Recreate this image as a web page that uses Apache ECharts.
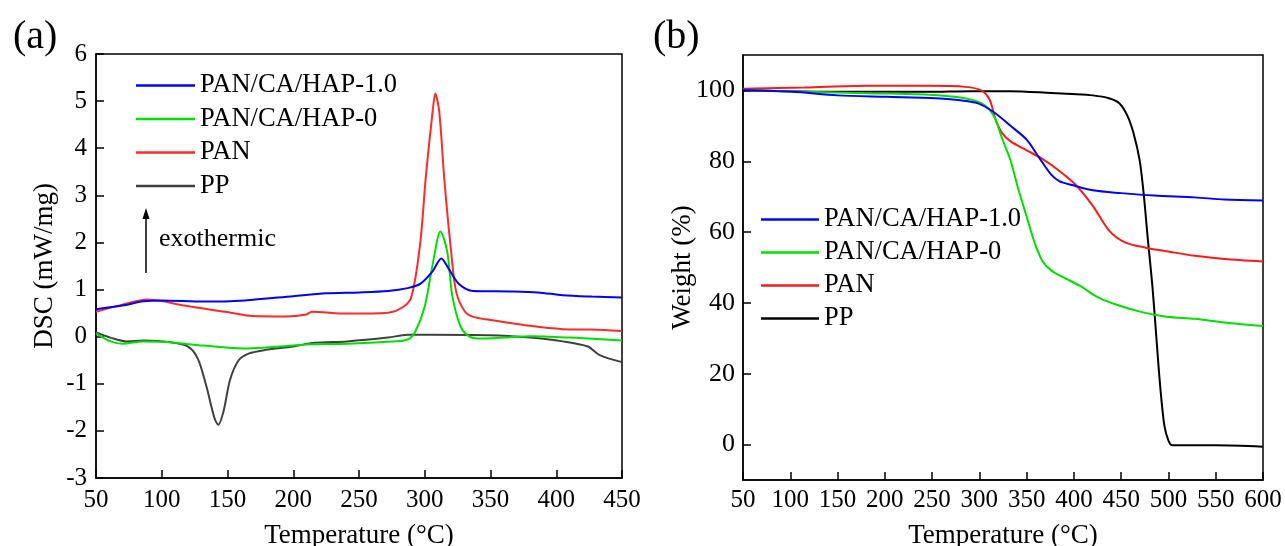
<!DOCTYPE html>
<html><head><meta charset="utf-8">
<script src="https://cdn.jsdelivr.net/npm/echarts@6/dist/echarts.min.js"></script>
<style>
html,body{margin:0;padding:0;background:#fff;}
#a{position:absolute;left:0;top:0;width:640px;height:546px;}
#b{position:absolute;left:640px;top:0;width:645px;height:546px;}
</style></head>
<body><div id="a"></div><div id="b"></div>
<script>
// ---- Data ----
const seriesNames = ['PAN/CA/HAP-1.0', 'PAN/CA/HAP-0', 'PAN', 'PP'];
const dscXTicks = [50, 450, 50];   // min, max, step
const tgaXTicks = [50, 600, 50];
const tgaYLabels = [0, 20, 40, 60, 80, 100];

const dscHAP10 = [[50,0.58],[70,0.66],[86,0.75],[100,0.77],[132,0.745],[163,0.77],[200,0.86],[225,0.92],[250,0.94],[272,0.97],[287,1.03],[296.5,1.12],[305.8,1.38],[312.6,1.66],[318,1.45],[326,1.12],[337,0.97],[365,0.96],[386,0.94],[405,0.88],[427,0.85],[450,0.83]];
const dscHAP0 = [[50,0.07],[61,-0.10],[70,-0.15],[86,-0.10],[101,-0.11],[132,-0.19],[163,-0.25],[179,-0.23],[200,-0.19],[213,-0.16],[241,-0.15],[272,-0.11],[287,-0.06],[293,0.12],[300,0.64],[306,1.53],[312,2.23],[317,1.82],[321,0.86],[327.5,0.20],[334,0.00],[340,-0.04],[365,-0.01],[380,0.01],[411,-0.02],[450,-0.08]];
const dscPAN = [[50,0.53],[70,0.68],[89,0.79],[101,0.75],[117,0.66],[148,0.53],[169,0.44],[194,0.43],[210,0.47],[214,0.53],[241,0.49],[272,0.51],[284,0.64],[290,0.86],[296.5,1.97],[301,3.45],[306,4.78],[308,5.16],[311,4.78],[315,3.3],[320,1.82],[324,0.94],[330.6,0.53],[337,0.42],[349,0.36],[380,0.23],[405,0.16],[427,0.15],[450,0.12]];
const dscPP = [[50,0.09],[61,-0.02],[73,-0.10],[86,-0.08],[107,-0.12],[120,-0.21],[127.5,-0.47],[134,-1.06],[140,-1.72],[143,-1.87],[147,-1.58],[152,-0.91],[158.5,-0.50],[166,-0.36],[179,-0.28],[200,-0.21],[216,-0.13],[241,-0.10],[272,-0.02],[287,0.04],[303,0.04],[349,0.03],[380,-0.02],[405,-0.10],[424,-0.21],[433,-0.39],[450,-0.54]];

const tgaHAP10 = [[50,100.1],[102,99.6],[150,98.6],[202,98.2],[254,97.8],[280,97.2],[298,96.4],[315,93.9],[333,90.0],[350,86.1],[363,81.1],[376,76.2],[385,74.3],[398,73.3],[420,71.8],[450,71.0],[485,70.3],[528,69.8],[559,69.2],[600,68.9]];
const tgaHAP0 = [[50,100.1],[115,99.6],[180,99.2],[246,98.8],[280,98.0],[302,96.4],[315,92.9],[324,86.5],[333,80.2],[341,72.3],[350,64.4],[359,56.6],[367,51.7],[376,49.2],[389,47.2],[406.5,44.8],[424,41.8],[446,39.4],[472,37.4],[498,36.1],[528,35.5],[559,34.5],[600,33.5]];
const tgaPAN = [[50,100.5],[115,100.8],[180,101.3],[246,101.3],[285,101.0],[302,100.0],[311,97.3],[317,91.9],[324,88.0],[333,85.6],[350,83.1],[367,80.6],[385,77.2],[402,73.3],[420,67.4],[437,60.5],[454,57.1],[476,55.6],[502,54.4],[528,53.3],[559,52.4],[600,51.7]];
const tgaPP = [[50,100],[159,99.6],[246,99.6],[289,99.8],[333,99.8],[376,99.3],[398,99.0],[420,98.6],[437,97.8],[448,96.4],[456.5,92.9],[463,88.0],[469.6,80.2],[474,70.3],[478,58.5],[483,44.8],[487,31.0],[491,17.3],[495.6,5.5],[500,1.1],[504,-0.2],[550,-0.2],[600,-0.6]];

const colorsA = ['#0000ff', '#00e000', '#ff2a2a', '#404040'];
const colorsB = ['#0000ff', '#00e000', '#ff1a1a', '#000000'];

const FONT = '"Liberation Serif", "Times New Roman", serif';

function mkSeries(names, datas, colors) {
  return names.map((n, i) => ({
    name: n, type: 'line', data: datas[i], showSymbol: false, symbol: 'none',
    smooth: 0.3,
    lineStyle: { color: colors[i], width: 2 }, itemStyle: { color: colors[i] },
    z: 10 - i
  }));
}

function baseAxisStyle(fs, margin) {
  return {
    axisLine: { show: true, onZero: false, lineStyle: { color: '#000', width: 1.5 } },
    axisTick: { show: true, inside: true, length: 8, lineStyle: { color: '#000', width: 1.5 } },
    axisLabel: { color: '#000', fontFamily: FONT, fontSize: fs, margin: margin },
    splitLine: { show: false },
    nameMoveOverlap: false,
    nameTextStyle: { color: '#000', fontFamily: FONT, fontSize: 27 }
  };
}

// ---- Chart (a) ----
const ca = echarts.init(document.getElementById('a'));
ca.setOption({
  animation: false,
  title: { text: '(a)', left: 8, top: 12, textStyle: { fontFamily: FONT, fontSize: 40, fontWeight: 'normal', color: '#000' } },
  grid: { left: 96, top: 54, width: 526, height: 424, outerBoundsMode: 'none', containLabel: false, show: true, borderColor: '#000', borderWidth: 1.5, backgroundColor: 'transparent' },
  legend: {
    orient: 'vertical', left: 131, top: 67, icon: 'rect', itemWidth: 59, itemHeight: 2.5, itemGap: 6.5, data: seriesNames,
    textStyle: { fontFamily: FONT, fontSize: 26.5, color: '#000', lineHeight: 26 }, selectedMode: false
  },
  xAxis: Object.assign(baseAxisStyle(25, 10), {
    type: 'value', min: dscXTicks[0], max: dscXTicks[1], interval: dscXTicks[2],
    name: 'Temperature (°C)', nameLocation: 'middle', nameGap: 44
  }),
  yAxis: Object.assign(baseAxisStyle(25, 9), {
    type: 'value', min: -3, max: 6, interval: 1,
    name: 'DSC (mW/mg)', nameLocation: 'middle', nameGap: 38
  }),
  graphic: [
    { type: 'line', shape: { x1: 146, y1: 273, x2: 146, y2: 216 }, style: { stroke: '#000', lineWidth: 1.5 } },
    { type: 'polygon', shape: { points: [[146, 208], [142.5, 219], [149.5, 219]] }, style: { fill: '#000' } },
    { type: 'text', left: 159, top: 226, style: { text: 'exothermic', font: '26px "Liberation Serif", serif', fill: '#000' } }
  ],
  series: mkSeries(seriesNames, [dscHAP10, dscHAP0, dscPAN, dscPP], colorsA)
});

// ---- Chart (b) ----
const cb = echarts.init(document.getElementById('b'));
const yb = baseAxisStyle(26, 8);
yb.axisLabel.customValues = tgaYLabels;
yb.axisTick.customValues = tgaYLabels;
cb.setOption({
  animation: false,
  title: { text: '(b)', left: 8, top: 12, textStyle: { fontFamily: FONT, fontSize: 40, fontWeight: 'normal', color: '#000' } },
  grid: { left: 103, top: 55, width: 520, height: 425, outerBoundsMode: 'none', containLabel: false, show: true, borderColor: '#000', borderWidth: 1.5, backgroundColor: 'transparent' },
  legend: {
    orient: 'vertical', left: 116, top: 201, icon: 'rect', itemWidth: 58, itemHeight: 2.5, itemGap: 6, data: seriesNames,
    textStyle: { fontFamily: FONT, fontSize: 26.5, color: '#000', lineHeight: 26 }, selectedMode: false
  },
  xAxis: Object.assign(baseAxisStyle(25, 8), {
    type: 'value', min: tgaXTicks[0], max: tgaXTicks[1], interval: tgaXTicks[2],
    name: 'Temperature (°C)', nameLocation: 'middle', nameGap: 42
  }),
  yAxis: Object.assign(yb, {
    type: 'value', min: -10, max: 110,
    name: 'Weight (%)', nameLocation: 'middle', nameGap: 47
  }),
  series: mkSeries(seriesNames, [tgaHAP10, tgaHAP0, tgaPAN, tgaPP], colorsB)
});
</script></body></html>
